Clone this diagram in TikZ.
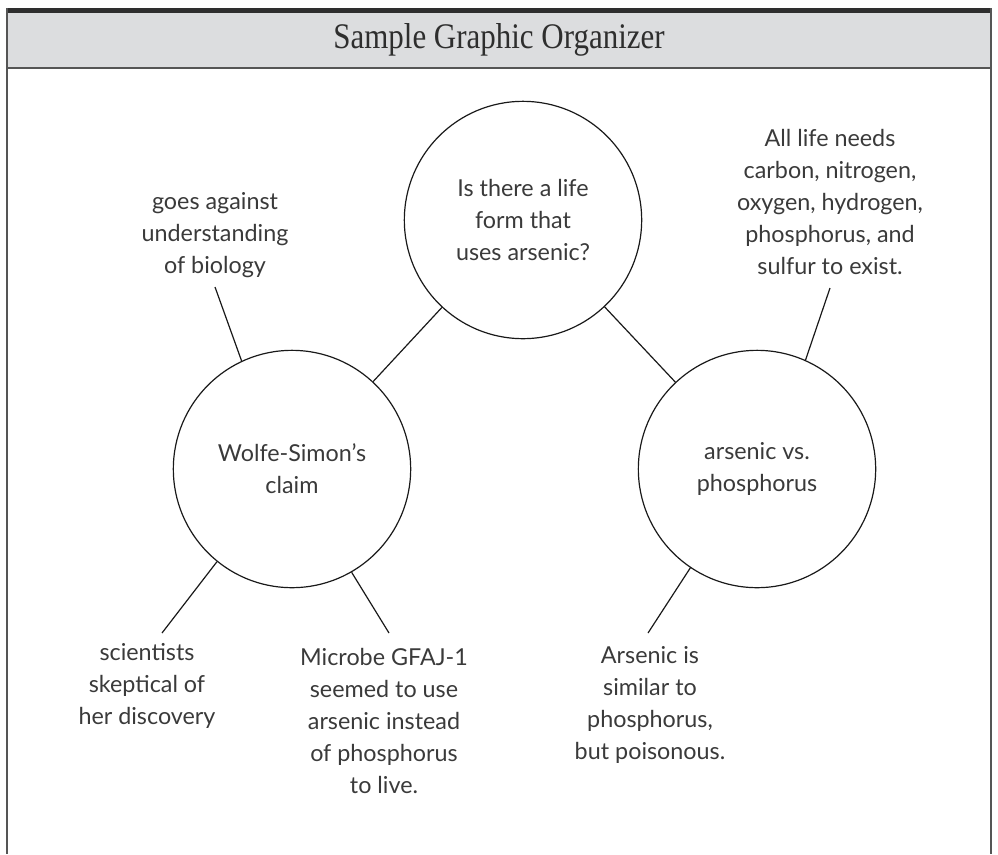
\documentclass[tikz,border=0pt]{standalone}
\usepackage{fontspec}
\setmainfont{Lato}
\newfontfamily\titlefont[FakeStretch=0.86]{Liberation Serif}
\usepackage{tikz}
\usetikzlibrary{
  positioning,
}
\definecolor{framegray}{HTML}{2E2E2E}
\definecolor{rulegray}{HTML}{555555}
\definecolor{headbg}{HTML}{DCDDDF}
\definecolor{inkgray}{HTML}{3A3A3A}

\begin{document}
\begin{tikzpicture}[
    x=0.75pt, y=-0.75pt,
    c/.style={circle, draw=black!90, line width=0.9pt, minimum size=178pt, inner sep=0pt,
      align=center, text=inkgray, font=\fontsize{17.5}{24}\selectfont},
    t/.style={align=center, text=inkgray, font=\fontsize{17.5}{24}\selectfont, inner sep=1pt},
    ln/.style={draw=black!90, line width=0.9pt},
  ]
  \useasboundingbox (0,0) rectangle (998,854);
  \fill[headbg] (7,12) rectangle (991,68);
  \fill[framegray] (6,8) rectangle (992,13);
  \draw[rulegray, line width=1.5pt] (7,68) -- (991,68);
  \draw[rulegray, line width=1pt] (7,8) -- (7,854);
  \draw[rulegray, line width=1pt] (991,8) -- (991,854);
  \node[font=\titlefont\fontsize{27}{30}\selectfont, text=framegray] (title) at (499,40) {Sample Graphic Organizer};

  \node[c] (quest) at (523,220) {Is there a life\\form that\\uses arsenic?};
  \node[c] (claim) at (292,469) {Wolfe-Simon’s\\claim};
  \node[c] (avp) at (757,469) {arsenic vs.\\phosphorus};

  \node[t] (goes) at (215,235) {goes against\\understanding\\of biology};
  \node[t] (needs) at (830,202) {All life needs\\carbon, nitrogen,\\oxygen, hydrogen,\\phosphorus, and\\sulfur to exist.};
  \node[t] (sci) at (147,686) {scientists\\skeptical of\\her discovery};
  \node[t] (microbe) at (384,721) {Microbe GFAJ-1\\seemed to use\\arsenic instead\\of phosphorus\\to live.};
  \node[t] (similar) at (650,705) {Arsenic is\\similar to\\phosphorus,\\but poisonous.};

  \coordinate (goesend) at (215,287);
  \coordinate (needsend) at (830,288);
  \coordinate (sciend) at (162,633);
  \coordinate (microbeend) at (389,633);
  \coordinate (similarend) at (648,633);

  \draw[ln] (quest) -- (claim);
  \draw[ln] (quest) -- (avp);
  \draw[ln] (goesend) -- (claim.115);
  \draw[ln] (needsend) -- (avp.66);
  \draw[ln] (sciend) -- (claim.231);
  \draw[ln] (microbeend) -- (claim.300);
  \draw[ln] (similarend) -- (avp.236);
\end{tikzpicture}
\end{document}
